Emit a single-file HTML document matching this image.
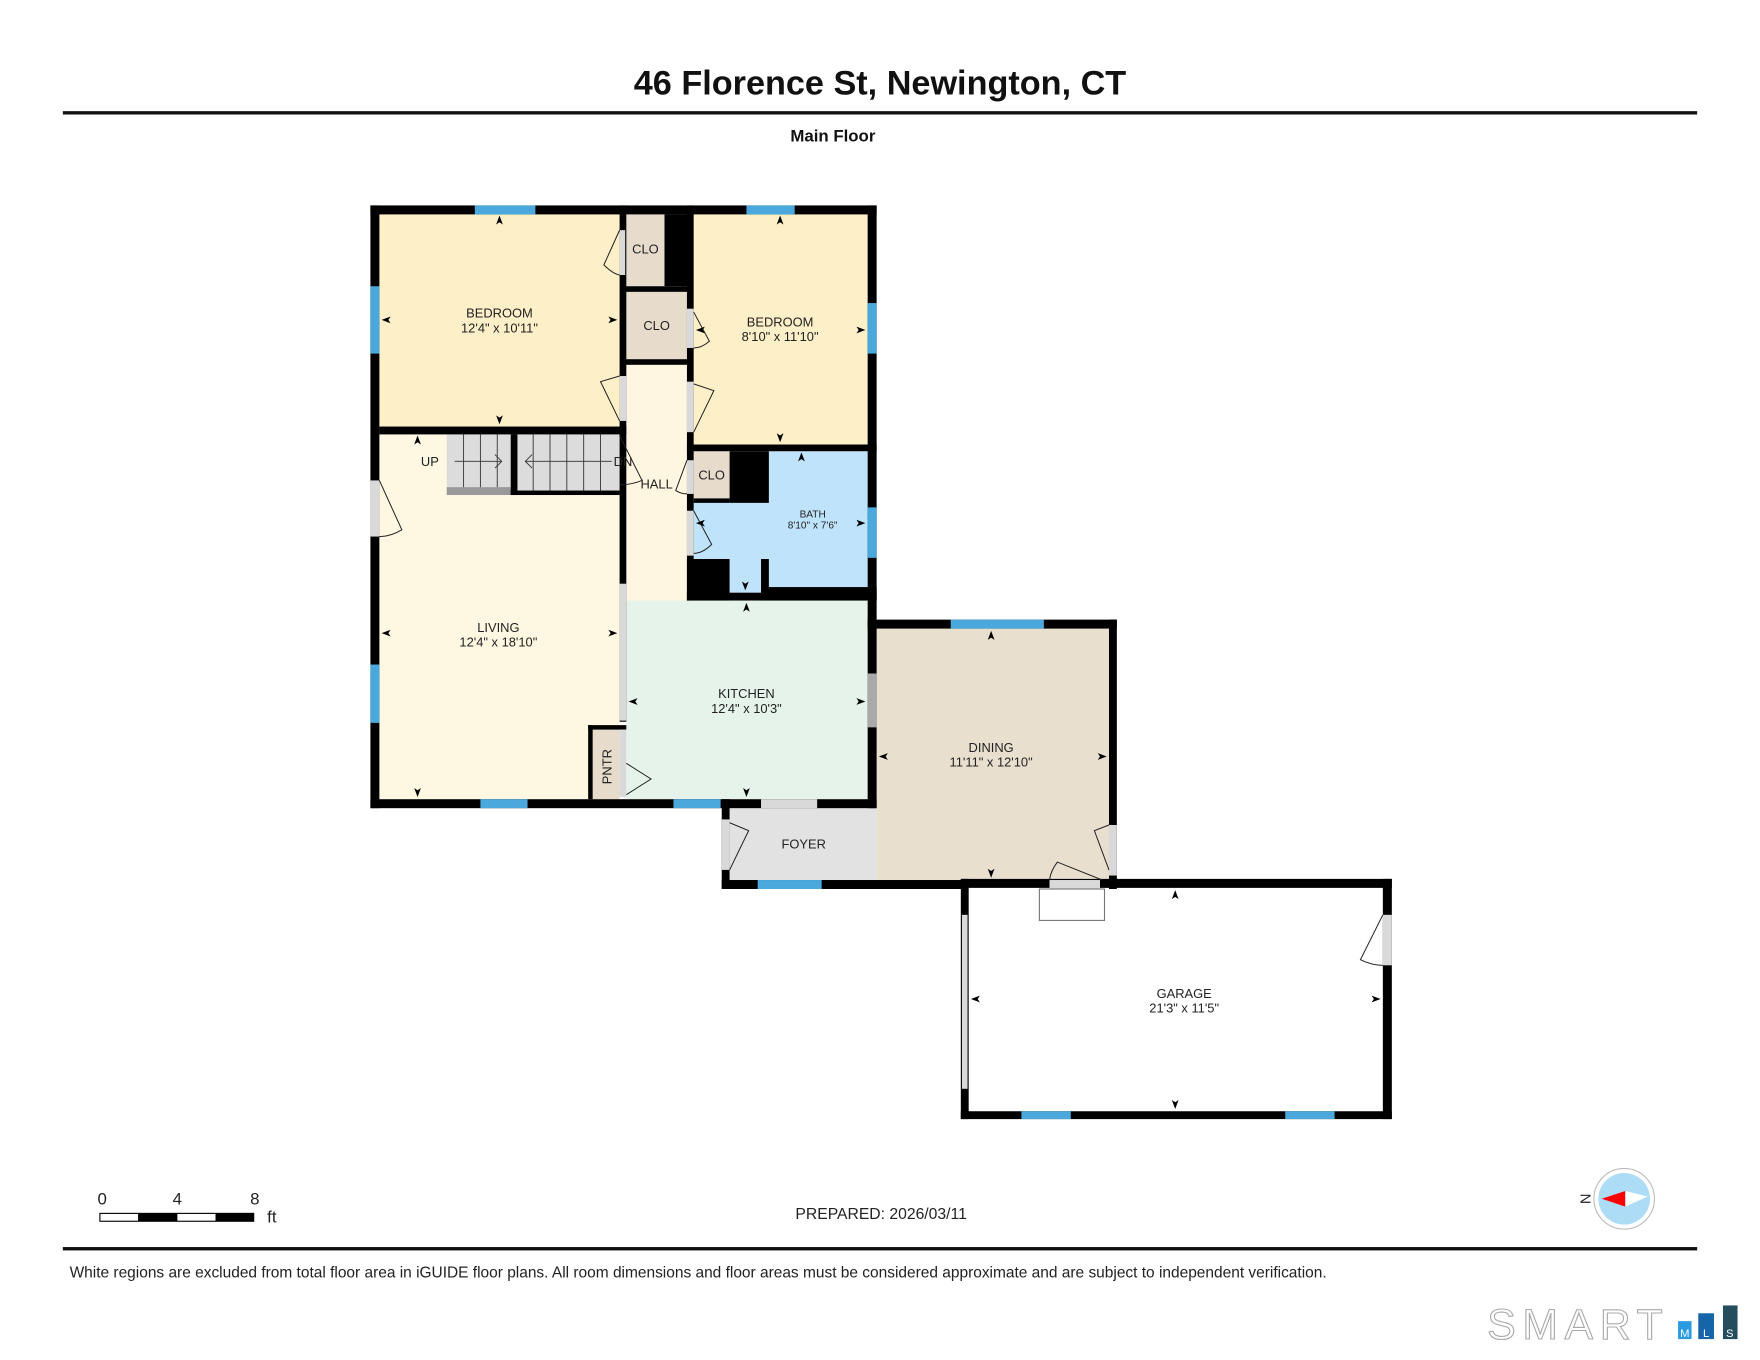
<!DOCTYPE html>
<html><head><meta charset="utf-8"><style>
html,body{margin:0;padding:0;background:#fff}
svg{display:block}
text{font-family:"Liberation Sans",Arial,sans-serif}
</style></head><body>
<svg width="1760" height="1360" viewBox="0 0 1568 1211.6" xmlns="http://www.w3.org/2000/svg">
<rect width="1568" height="1212" fill="#fff"/>
<g fill="#222">
<text x="784" y="84" font-size="30.5" font-weight="bold" text-anchor="middle" fill="#111">46 Florence St, Newington, CT</text>
<rect x="56" y="99" width="1456" height="3" fill="#111"/>
<text x="742" y="126" font-size="15" font-weight="bold" text-anchor="middle" fill="#111">Main Floor</text>
</g>

<!-- room fills -->
<rect x="338" y="191" width="214" height="189" fill="#fdefc7"/>
<rect x="338" y="387" width="214" height="325" fill="#fef8e2"/>
<rect x="618" y="191" width="155" height="205" fill="#fdefc7"/>
<rect x="558" y="325" width="54" height="210" fill="#fef6e0"/>
<rect x="557" y="191" width="35" height="64" fill="#e7dccb"/>
<rect x="557" y="260" width="55" height="60" fill="#e7dccb"/>
<rect x="618" y="402" width="32" height="42" fill="#e7dccb"/>
<rect x="685" y="402" width="88" height="121" fill="#bee3fb"/>
<rect x="618" y="448" width="155" height="50" fill="#bee3fb"/>
<rect x="650" y="448" width="28" height="80" fill="#bee3fb"/>
<rect x="558" y="535" width="215" height="177" fill="#e5f3ea"/>
<rect x="527" y="648" width="25" height="64" fill="#e7dccb"/>
<rect x="650" y="720" width="131" height="64" fill="#e2e2e2"/>
<rect x="781" y="560" width="207" height="224" fill="#e8dfcf"/>
<!-- stairs -->
<rect x="398" y="387" width="57" height="50" fill="#dcdcdc"/>
<rect x="398" y="434" width="57" height="7" fill="#999"/>
<rect x="461" y="387" width="91" height="50" fill="#dcdcdc"/>
<g stroke="#333" stroke-width="0.8">
<line x1="413" y1="387" x2="413" y2="434"/><line x1="428" y1="387" x2="428" y2="434"/><line x1="443" y1="387" x2="443" y2="434"/>
<line x1="475" y1="387" x2="475" y2="437"/><line x1="490" y1="387" x2="490" y2="437"/><line x1="505" y1="387" x2="505" y2="437"/><line x1="520" y1="387" x2="520" y2="437"/><line x1="535" y1="387" x2="535" y2="437"/>
<line x1="405" y1="411" x2="447" y2="411"/><polyline points="441,405 447,411 441,417" fill="none"/>
<line x1="468" y1="411" x2="545" y2="411"/><polyline points="474,405 468,411 474,417" fill="none"/>
</g>

<!-- walls -->
<g fill="#000">
<rect x="330" y="183" width="451" height="8"/>
<rect x="330" y="183" width="8" height="537"/>
<rect x="773" y="183" width="8" height="537"/>
<rect x="330" y="712" width="451" height="8"/>
<rect x="338" y="380" width="220" height="7"/>
<rect x="552" y="183" width="6" height="460"/>
<rect x="592" y="191" width="23" height="64"/>
<rect x="557" y="255" width="58" height="5"/>
<rect x="557" y="320" width="58" height="5"/>
<rect x="612" y="183" width="6" height="352"/>
<rect x="612" y="396" width="169" height="6"/>
<rect x="650" y="402" width="35" height="46"/>
<rect x="618" y="444" width="32" height="4"/>
<rect x="612" y="498" width="38" height="37"/>
<rect x="678" y="498" width="7" height="30"/>
<rect x="678" y="523" width="103" height="12"/>
<rect x="612" y="528" width="169" height="7"/>
<rect x="455" y="387" width="6" height="54"/>
<rect x="455" y="437" width="97" height="4"/>
<rect x="524" y="646" width="34" height="4"/>
<rect x="524" y="646" width="4" height="66"/>
<rect x="643" y="712" width="7" height="80"/>
<rect x="643" y="784" width="219" height="8"/>
<rect x="773" y="552" width="222" height="8"/>
<rect x="988" y="552" width="7" height="240"/>
<rect x="856" y="783" width="384" height="8"/>
<rect x="856" y="783" width="7" height="214"/>
<rect x="1232" y="783" width="8" height="214"/>
<rect x="856" y="990" width="384" height="7"/>
</g>
<!-- gray openings -->
<g fill="#d9d9d9">
<rect x="552" y="520" width="6" height="122"/>
<rect x="678" y="712" width="50" height="8"/>
<rect x="330" y="428" width="8" height="50"/>
<rect x="552" y="205" width="5" height="40"/>
<rect x="552" y="335" width="6" height="40"/>
<rect x="612" y="275" width="6" height="35"/>
<rect x="612" y="340" width="6" height="45"/>
<rect x="612" y="410" width="6" height="30"/>
<rect x="612" y="455" width="6" height="40"/>
<rect x="552" y="650" width="6" height="60"/>
<rect x="643" y="730" width="7" height="45"/>
<rect x="988" y="735" width="7" height="45"/>
<rect x="1232" y="815" width="8" height="45"/>
<rect x="935" y="784" width="45" height="8"/>
<rect x="857" y="815" width="5" height="155"/>
</g>
<rect x="773" y="600" width="8" height="48" fill="#aaa"/>
<rect x="926" y="792" width="58" height="28" fill="#fff" stroke="#777" stroke-width="1"/>
<!-- windows -->
<g fill="#4aa8dc">
<rect x="423" y="183" width="54" height="8"/>
<rect x="665" y="183" width="43" height="8"/>
<rect x="330" y="255" width="8" height="60"/>
<rect x="330" y="592" width="8" height="52"/>
<rect x="773" y="270" width="8" height="45"/>
<rect x="773" y="452" width="8" height="45"/>
<rect x="428" y="712" width="42" height="8"/>
<rect x="600" y="712" width="42" height="8"/>
<rect x="847" y="552" width="83" height="8"/>
<rect x="675" y="784" width="57" height="8"/>
<rect x="910" y="990" width="44" height="7"/>
<rect x="1145" y="990" width="44" height="7"/>
</g>
<!-- door swings -->
<g fill="none" stroke="#222" stroke-width="0.9">
<path d="M552,205 L538,236 Q546,244 552,245"/>
<path d="M552,335 L535,340 L552,375"/>
<path d="M618,278 L632,304 Q625,310 618,310"/>
<path d="M618,342 L636,348 L618,385"/>
<path d="M612,410 L602,437 Q607,440 612,440"/>
<path d="M618,455 L634,485 Q626,493 618,493"/>
<path d="M338,428 L358,472 Q348,478 338,478"/>
<path d="M552,388 L572,428 Q562,432 552,432"/>
<path d="M558,680 L580,694 L558,708"/>
<path d="M650,733 L667,740 L650,775"/>
<path d="M988,735 L975,740 L988,775"/>
<path d="M982,784 L942,768 Q936,776 935,784"/>
<path d="M1232,815 L1212,855 Q1222,860 1232,860"/>
</g>
<!-- dimension arrows -->
<g fill="#000">
<path d="M445,192 l-3,8 l3,-2 l3,2z"/><path d="M445,378 l-3,-8 l3,2 l3,-2z"/>
<path d="M340,285 l8,-3 l-2,3 l2,3z"/><path d="M550,285 l-8,-3 l2,3 l-2,3z"/>
<path d="M695,192 l-3,8 l3,-2 l3,2z"/><path d="M695,394 l-3,-8 l3,2 l3,-2z"/>
<path d="M620,294 l8,-3 l-2,3 l2,3z"/><path d="M771,294 l-8,-3 l2,3 l-2,3z"/>
<path d="M714,403 l-3,8 l3,-2 l3,2z"/><path d="M664,526 l-3,-8 l3,2 l3,-2z"/>
<path d="M620,466 l8,-3 l-2,3 l2,3z"/><path d="M771,466 l-8,-3 l2,3 l-2,3z"/>
<path d="M372,388 l-3,8 l3,-2 l3,2z"/><path d="M372,710 l-3,-8 l3,2 l3,-2z"/>
<path d="M340,564 l8,-3 l-2,3 l2,3z"/><path d="M550,564 l-8,-3 l2,3 l-2,3z"/>
<path d="M665,537 l-3,8 l3,-2 l3,2z"/><path d="M665,710 l-3,-8 l3,2 l3,-2z"/>
<path d="M560,625 l8,-3 l-2,3 l2,3z"/><path d="M771,625 l-8,-3 l2,3 l-2,3z"/>
<path d="M883,562 l-3,8 l3,-2 l3,2z"/><path d="M883,782 l-3,-8 l3,2 l3,-2z"/>
<path d="M783,674 l8,-3 l-2,3 l2,3z"/><path d="M986,674 l-8,-3 l2,3 l-2,3z"/>
<path d="M1047,793 l-3,8 l3,-2 l3,2z"/><path d="M1047,988 l-3,-8 l3,2 l3,-2z"/>
<path d="M865,890 l8,-3 l-2,3 l2,3z"/><path d="M1230,890 l-8,-3 l2,3 l-2,3z"/>
</g>
<!-- labels -->
<g font-size="11.5" text-anchor="middle" fill="#222">
<text x="445" y="283">BEDROOM</text><text x="445" y="296">12'4" x 10'11"</text>
<text x="695" y="291">BEDROOM</text><text x="695" y="304">8'10" x 11'10"</text>
<text x="575" y="226">CLO</text><text x="585" y="294">CLO</text><text x="634" y="427">CLO</text>
<text x="585" y="435">HALL</text>
<text x="444" y="563">LIVING</text><text x="444" y="576">12'4" x 18'10"</text>
<text x="665" y="622">KITCHEN</text><text x="665" y="635">12'4" x 10'3"</text>
<text x="883" y="670">DINING</text><text x="883" y="683">11'11" x 12'10"</text>
<text x="716" y="756">FOYER</text>
<text x="1055" y="889">GARAGE</text><text x="1055" y="902">21'3" x 11'5"</text>
<text x="383" y="415">UP</text><text x="555" y="415">DN</text>
<text x="724" y="461" font-size="9">BATH</text><text x="724" y="471" font-size="9">8'10" x 7'6"</text>
<text x="545" y="683" transform="rotate(-90 545 683)">PNTR</text>
</g>

<!-- scale bar -->
<g fill="#222">
<text x="91" y="1073" font-size="15" text-anchor="middle">0</text>
<text x="158" y="1073" font-size="15" text-anchor="middle">4</text>
<text x="227" y="1073" font-size="15" text-anchor="middle">8</text>
<text x="238" y="1089" font-size="15">ft</text>
<text x="785" y="1086" font-size="14" text-anchor="middle">PREPARED: 2026/03/11</text>
<text x="1413" y="1073" font-size="13" transform="rotate(90 1413 1068)" text-anchor="middle">N</text>
<text x="62" y="1138" font-size="13.8">White regions are excluded from total floor area in iGUIDE floor plans. All room dimensions and floor areas must be considered approximate and are subject to independent verification.</text>
</g>
<rect x="89" y="1081" width="137" height="7" fill="#fff" stroke="#000" stroke-width="1"/>
<rect x="123" y="1081" width="35" height="7" fill="#000"/>
<rect x="192" y="1081" width="34" height="7" fill="#000"/>
<!-- compass -->
<circle cx="1447" cy="1068" r="27" fill="#fff" stroke="#bbb" stroke-width="1"/>
<circle cx="1447" cy="1068" r="23" fill="#acdcf6"/>
<path d="M1427,1068 L1448,1061 L1448,1075z" fill="#f00"/>
<path d="M1448,1061 L1468,1066 L1448,1075z" fill="#fff"/>

<rect x="56" y="1111" width="1456" height="3" fill="#111"/>
<text x="1325" y="1193" font-size="38" fill="#fff" stroke="#aaa" stroke-width="1" letter-spacing="6">SMART</text>
<rect x="1495" y="1177" width="12" height="16" fill="#2a9be0"/>
<rect x="1513" y="1170" width="14" height="23" fill="#1565a8"/>
<rect x="1535" y="1163" width="13" height="30" fill="#244e5e"/>
<text x="1501" y="1191" font-size="10" fill="#fff" text-anchor="middle">M</text>
<text x="1520" y="1191" font-size="10" fill="#fff" text-anchor="middle">L</text>
<text x="1541" y="1191" font-size="10" fill="#fff" text-anchor="middle">S</text>
</svg>
</body></html>
